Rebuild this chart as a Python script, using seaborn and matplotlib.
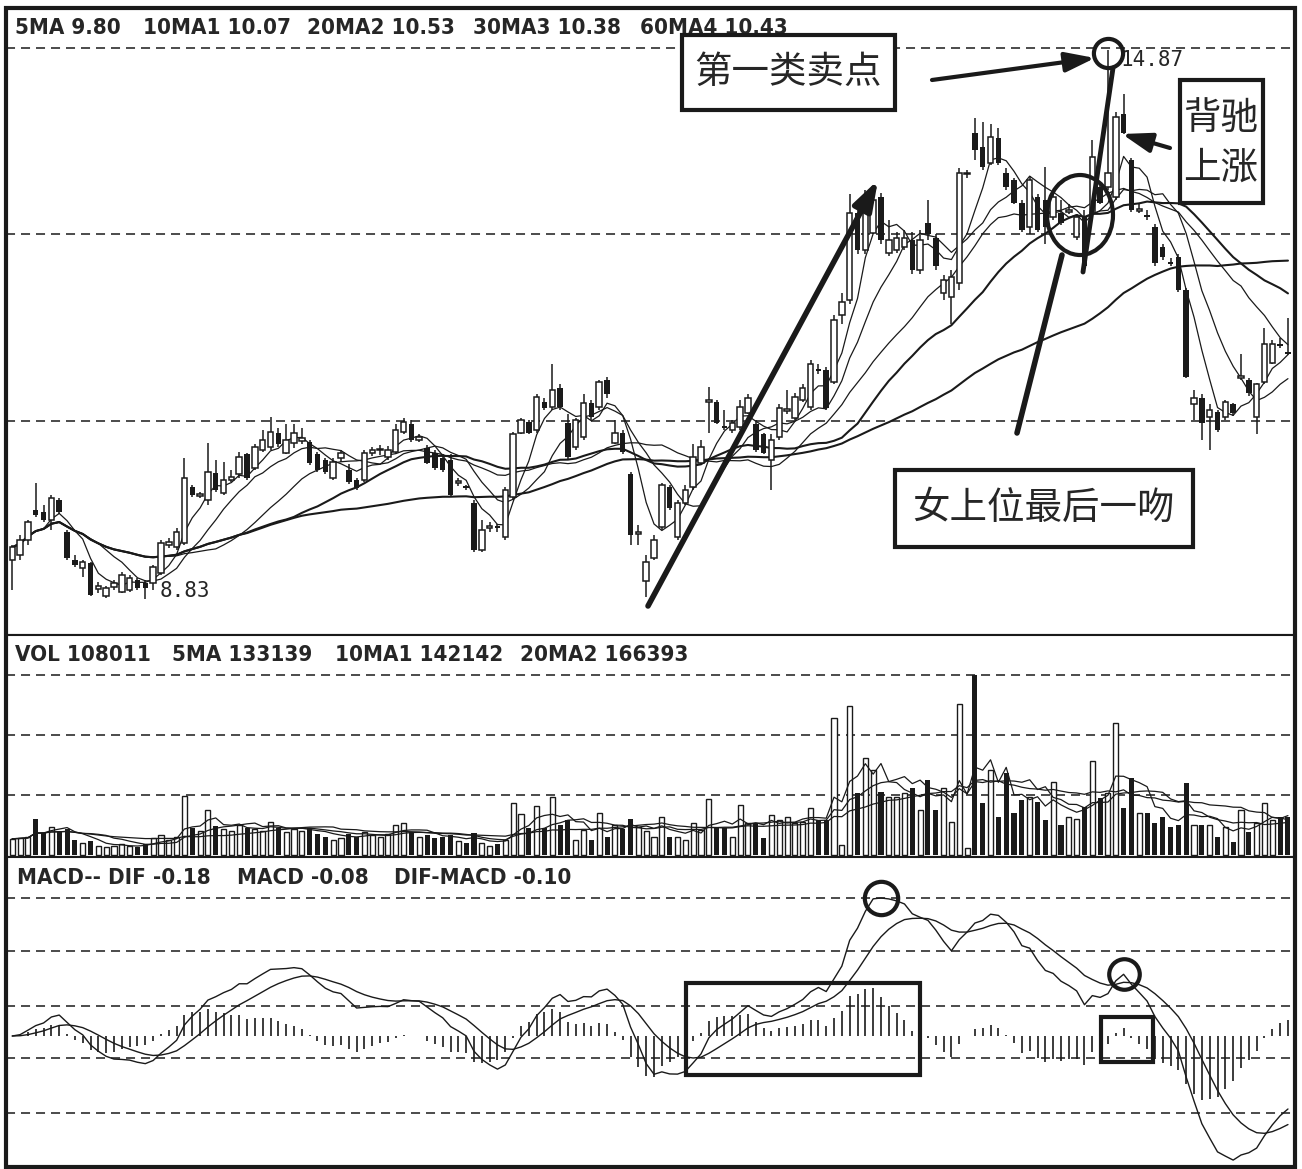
import numpy as np
import pandas as pd
import seaborn as sns
import matplotlib.pyplot as plt
from matplotlib.patches import Rectangle, Ellipse, FancyArrowPatch

# daily bars (price in yuan, volume in hands)
opens = [9.26, 9.31, 9.48, 9.81, 9.79, 9.70, 9.92, 9.57, 9.26, 9.17,
         9.23, 8.94, 8.86, 8.96, 8.91, 8.93, 9.04, 9.01, 9.01, 9.12,
         9.43, 9.40, 9.45, 10.06, 9.96, 9.92, 10.22, 10.00, 10.14, 10.20,
         10.42, 10.27, 10.47, 10.50, 10.66, 10.44, 10.55, 10.57, 10.56, 10.42,
         10.36, 10.16, 10.38, 10.25, 10.14, 10.14, 10.44, 10.47, 10.39, 10.45,
         10.67, 10.75, 10.58, 10.49, 10.44, 10.38, 10.36, 10.11, 10.07, 9.89,
         9.37, 9.61, 9.63, 9.51, 9.95, 10.66, 10.78, 10.69, 11.00, 10.94,
         11.15, 10.77, 10.50, 10.61, 10.99, 10.94, 11.24, 10.55, 10.66, 10.20,
         9.55, 9.03, 9.28, 9.62, 10.06, 9.51, 9.89, 10.06, 10.33, 11.00,
         11.00, 10.73, 10.69, 10.72, 10.88, 10.75, 10.64, 10.36, 10.61, 10.90,
         10.82, 11.02, 10.94, 11.36, 11.35, 11.22, 11.95, 12.12, 13.08, 12.67,
         12.86, 13.25, 12.64, 12.67, 12.70, 12.78, 12.45, 12.97, 12.80, 12.20,
         12.15, 12.31, 13.50, 13.96, 13.80, 13.63, 13.90, 13.52, 13.44, 13.19,
         12.92, 13.25, 13.22, 13.03, 13.08, 13.09, 12.81, 13.03, 13.08, 13.36,
         13.36, 13.25, 14.16, 13.66, 13.10, 13.05, 12.92, 12.70, 12.54, 12.59,
         12.23, 10.97, 11.04, 10.83, 10.89, 10.83, 10.97, 11.26, 11.24, 10.83,
         11.22, 11.43, 11.63, 11.55]
highs = [9.43, 9.54, 9.70, 10.11, 9.86, 9.98, 9.94, 9.59, 9.31, 9.26,
         9.24, 9.02, 8.97, 9.04, 9.13, 9.10, 9.06, 9.04, 9.20, 9.48,
         9.50, 9.61, 10.38, 10.09, 10.01, 10.55, 10.36, 10.34, 10.25, 10.45,
         10.44, 10.53, 10.69, 10.83, 10.71, 10.75, 10.75, 10.71, 10.58, 10.45,
         10.38, 10.38, 10.47, 10.31, 10.16, 10.47, 10.50, 10.52, 10.51, 10.75,
         10.82, 10.80, 10.64, 10.52, 10.47, 10.42, 10.42, 10.16, 10.09, 9.92,
         9.70, 9.68, 9.66, 10.06, 10.67, 10.82, 10.80, 11.08, 11.04, 11.41,
         11.19, 10.86, 10.82, 11.08, 11.02, 11.24, 11.27, 10.80, 10.69, 10.23,
         9.65, 9.32, 9.54, 10.11, 10.09, 9.92, 10.09, 10.53, 10.58, 11.16,
         11.02, 10.91, 10.80, 11.02, 11.08, 10.80, 10.66, 10.64, 10.97, 11.13,
         11.10, 11.19, 11.46, 11.41, 11.38, 11.95, 12.20, 13.28, 13.17, 13.33,
         13.30, 13.30, 13.00, 12.87, 12.89, 12.87, 12.89, 13.22, 12.84, 12.39,
         12.45, 13.57, 13.55, 14.12, 14.08, 14.05, 14.01, 13.57, 13.46, 13.22,
         13.48, 13.28, 13.58, 13.28, 13.22, 13.17, 13.06, 13.11, 13.88, 13.39,
         14.87, 14.19, 14.38, 13.68, 13.17, 13.11, 12.95, 12.73, 12.58, 12.63,
         12.25, 11.13, 11.08, 10.97, 10.91, 11.02, 10.99, 11.52, 11.26, 11.21,
         11.81, 11.68, 11.70, 11.92]
lows = [8.93, 9.26, 9.43, 9.73, 9.68, 9.59, 9.77, 9.26, 9.18, 9.07,
        8.86, 8.90, 8.84, 8.93, 8.90, 8.91, 8.93, 8.83, 8.93, 9.10,
        9.39, 9.37, 9.43, 9.95, 9.94, 9.86, 10.01, 9.98, 10.12, 10.16,
        10.14, 10.25, 10.45, 10.47, 10.50, 10.42, 10.49, 10.53, 10.30, 10.23,
        10.21, 10.14, 10.34, 10.10, 10.03, 10.12, 10.40, 10.41, 10.36, 10.42,
        10.64, 10.56, 10.56, 10.31, 10.25, 10.23, 9.95, 10.07, 10.03, 9.35,
        9.35, 9.57, 9.57, 9.48, 9.92, 10.64, 10.64, 10.66, 10.91, 10.91,
        10.91, 10.36, 10.47, 10.58, 10.80, 10.91, 11.04, 10.53, 10.42, 9.43,
        9.43, 8.85, 9.26, 9.59, 9.81, 9.48, 9.87, 10.03, 10.31, 10.66,
        10.75, 10.69, 10.66, 10.69, 10.86, 10.45, 10.42, 10.03, 10.58, 10.86,
        10.80, 11.00, 10.91, 11.30, 10.91, 11.19, 11.85, 12.07, 12.62, 12.62,
        12.84, 12.73, 12.60, 12.64, 12.67, 12.41, 12.41, 12.78, 12.45, 12.12,
        11.85, 12.23, 13.46, 13.66, 13.55, 13.60, 13.60, 13.33, 13.17, 12.87,
        12.84, 12.87, 12.73, 13.00, 12.94, 13.06, 12.78, 12.45, 13.06, 13.17,
        13.33, 13.22, 13.94, 13.09, 13.08, 13.00, 12.49, 12.56, 12.49, 12.21,
        11.26, 10.80, 10.58, 10.47, 10.67, 10.80, 10.84, 11.24, 11.06, 10.64,
        11.19, 11.41, 11.59, 11.51]
closes = [9.40, 9.48, 9.68, 9.75, 9.70, 9.94, 9.79, 9.28, 9.20, 9.24,
          8.88, 8.97, 8.95, 9.01, 9.10, 9.06, 8.95, 8.95, 9.18, 9.45,
          9.46, 9.57, 10.16, 9.98, 9.99, 10.23, 10.03, 10.14, 10.17, 10.39,
          10.16, 10.50, 10.58, 10.67, 10.53, 10.58, 10.66, 10.60, 10.33, 10.25,
          10.23, 10.34, 10.44, 10.12, 10.05, 10.44, 10.47, 10.48, 10.47, 10.69,
          10.78, 10.58, 10.61, 10.33, 10.27, 10.25, 9.98, 10.13, 10.05, 9.37,
          9.59, 9.63, 9.61, 10.03, 10.64, 10.80, 10.66, 11.05, 10.93, 11.13,
          10.94, 10.39, 10.80, 10.99, 10.83, 11.22, 11.08, 10.66, 10.45, 9.54,
          9.57, 9.24, 9.48, 10.09, 9.83, 9.89, 10.03, 10.39, 10.50, 11.02,
          10.77, 10.71, 10.77, 10.94, 11.04, 10.47, 10.44, 10.58, 10.93, 10.92,
          11.05, 11.15, 11.41, 11.34, 10.93, 11.90, 12.10, 13.08, 12.67, 13.17,
          13.22, 12.78, 12.78, 12.80, 12.80, 12.45, 12.78, 12.84, 12.49, 12.34,
          12.37, 13.52, 13.52, 13.77, 13.58, 13.91, 13.63, 13.36, 13.19, 12.89,
          13.44, 12.89, 12.92, 13.25, 12.97, 13.11, 13.03, 12.49, 13.69, 13.19,
          13.52, 14.13, 13.96, 13.11, 13.12, 13.03, 12.53, 12.59, 12.52, 12.23,
          11.27, 11.04, 10.77, 10.91, 10.69, 11.00, 10.88, 11.28, 11.10, 11.19,
          11.63, 11.63, 11.61, 11.53]
volumes_k = [53, 55, 60, 120, 73, 93, 80, 85, 50, 40,
             45, 30, 25, 28, 35, 30, 25, 35, 55, 65,
             50, 60, 197, 90, 80, 150, 95, 85, 80, 100,
             90, 85, 80, 110, 90, 75, 85, 80, 90, 70,
             60, 50, 55, 70, 60, 75, 65, 60, 70, 100,
             107, 75, 60, 65, 55, 60, 65, 45, 40, 73,
             40, 30, 35, 50, 173, 137, 90, 163, 90, 193,
             100, 117, 50, 83, 50, 140, 60, 100, 85, 120,
             93, 80, 60, 127, 60, 60, 50, 107, 83, 187,
             90, 90, 60, 167, 107, 107, 57, 133, 117, 127,
             107, 110, 157, 117, 117, 457, 33, 497, 207, 323,
             283, 210, 193, 193, 207, 223, 150, 250, 150, 223,
             110, 503, 23, 600, 173, 283, 127, 273, 140, 183,
             193, 177, 117, 243, 100, 127, 120, 160, 313, 190,
             207, 440, 157, 257, 140, 140, 107, 127, 93, 100,
             240, 100, 100, 100, 60, 93, 43, 150, 77, 107,
             173, 117, 127, 127]

price_ma_windows = [5, 10, 20, 30, 60]
vol_ma_windows = [5, 10, 20]
price_grid = [10.79, 12.84, 14.89]
vol_grid = [200000, 400000, 600000]

ma_header = ["5MA 9.80", "10MA1 10.07", "20MA2 10.53", "30MA3 10.38", "60MA4 10.43"]
vol_header = ["VOL 108011", "5MA 133139", "10MA1 142142", "20MA2 166393"]
macd_header = ["MACD-- DIF -0.18", "MACD -0.08", "DIF-MACD -0.10"]

sns.set_theme(style="white")
plt.rcParams["font.family"] = ["DejaVu Sans"]
plt.rcParams["lines.scale_dashes"] = False
CJK = ["Noto Sans CJK SC", "DejaVu Sans"]
DASH = (6.5, 4.3)

W, H = 1302, 1169
fig = plt.figure(figsize=(W / 100, H / 100), dpi=100)


def fx(px):
    return px / W


def fy(py):
    return 1 - py / H


def panel(top, bottom):
    return fig.add_axes([fx(6), fy(bottom), fx(1295) - fx(6), fy(top) - fy(bottom)])


ax_p = panel(8, 635)
ax_v = panel(635, 857)
ax_m = panel(857, 1167)

df = pd.DataFrame({"open": opens, "high": highs, "low": lows, "close": closes,
                   "vol": np.array(volumes_k) * 1000})
df["i"] = np.arange(len(df))
up = df["close"] >= df["open"]
n = len(df)

# ---- price panel: candles + moving averages
body_b = np.minimum(df["open"], df["close"])
body_h = np.maximum((df["close"] - df["open"]).abs(), 0.015)
ax_p.vlines(df["i"], df["low"], df["high"], color="k", lw=1.1, zorder=2)
ax_p.bar(df["i"][up], body_h[up], bottom=body_b[up], width=0.7,
         facecolor="white", edgecolor="k", lw=1.1, zorder=3)
ax_p.bar(df["i"][~up], body_h[~up], bottom=body_b[~up], width=0.7,
         color="k", lw=0, zorder=3)
for w in price_ma_windows:
    ma = df["close"].rolling(w, min_periods=1).mean()
    sns.lineplot(x=df["i"], y=ma, ax=ax_p, color="k", lw=1.5 if w >= 30 else 0.9, zorder=2.5)
for g in price_grid:
    ax_p.axhline(g, color="k", lw=1.1, dashes=DASH, zorder=0.5)
ax_p.set_ylim(8.435, 15.33)

i_lo = int(df["low"].idxmin())
i_hi = int(df["high"].idxmax())
ax_p.annotate(f"{df['low'].min():.2f}", xy=(i_lo, df["low"].min()), xytext=(10, 6),
              textcoords="offset points", family="DejaVu Sans Mono", fontsize=15, va="center")
ax_p.annotate(f"{df['high'].max():.2f}", xy=(i_hi, df["high"].max()), xytext=(9, -7),
              textcoords="offset points", family="DejaVu Sans Mono", fontsize=15, va="center")
ax_p.plot(i_hi, df["high"].max() - 0.03, "o", ms=21, mfc="none", mec="k", mew=3, zorder=6)

# ---- volume panel
ax_v.bar(df["i"][up], df["vol"][up], width=0.65, facecolor="white", edgecolor="k", lw=1, zorder=3)
ax_v.bar(df["i"][~up], df["vol"][~up], width=0.65, color="k", lw=0, zorder=3)
for w in vol_ma_windows:
    sns.lineplot(x=df["i"], y=df["vol"].rolling(w, min_periods=1).mean(), ax=ax_v,
                 color="k", lw=0.9, zorder=4)
for g in vol_grid:
    ax_v.axhline(g, color="k", lw=1.1, dashes=DASH, zorder=0.5)
ax_v.set_ylim(-8000, 733000)

# ---- MACD panel (DIF, DEA and DIF-DEA bars)
ema12 = df["close"].ewm(span=12, adjust=False).mean()
ema26 = df["close"].ewm(span=26, adjust=False).mean()
dif = ema12 - ema26
dea = dif.ewm(span=9, adjust=False).mean()
hist = dif - dea
ax_m.vlines(df["i"], 0, hist, color="k", lw=1.2, zorder=2)
sns.lineplot(x=df["i"], y=dif, ax=ax_m, color="k", lw=1, zorder=3)
sns.lineplot(x=df["i"], y=dea, ax=ax_m, color="k", lw=1, zorder=3)
k = 138 / dif.max()
ax_m.set_ylim(-131 / k, 179 / k)
for f in [0.868, 0.697, 0.519, 0.352, 0.174]:
    ax_m.plot([0, 1], [f, f], transform=ax_m.transAxes, color="k", lw=1.1, dashes=DASH, zorder=0.5)
i_top = int(dif.idxmax())
i_2 = int(dif.iloc[136:147].idxmax())
ax_m.plot(i_top, dif[i_top], "o", ms=24, mfc="none", mec="k", mew=3, zorder=6)
ax_m.plot(i_2, dif[i_2], "o", ms=22, mfc="none", mec="k", mew=3, zorder=6)

for ax in (ax_p, ax_v, ax_m):
    ax.set_xlim(-0.8, n - 1 + 0.9)
    ax.set_xticks([])
    ax.set_yticks([])
    ax.set_xlabel("")
    ax.set_ylabel("")
    for s in ax.spines.values():
        s.set_color("k")
        s.set_linewidth(1.5)

fig.add_artist(Rectangle((fx(6), fy(1167)), fx(1295) - fx(6), fy(8) - fy(1167),
                         transform=fig.transFigure, fill=False, ec="k", lw=3, zorder=20))

# ---- header texts
for s, x in zip(ma_header, [15, 143, 307, 473, 640]):
    fig.text(fx(x), fy(28), s, fontsize=16, fontweight="bold", fontstretch="condensed", va="center")
for s, x in zip(vol_header, [15, 172, 335, 520]):
    fig.text(fx(x), fy(655), s, fontsize=16, fontweight="bold", fontstretch="condensed", va="center")
for s, x in zip(macd_header, [17, 237, 394]):
    fig.text(fx(x), fy(878), s, fontsize=16, fontweight="bold", fontstretch="condensed", va="center")


# ---- annotations
def box(x0, y0, x1, y1, lw=3, fill=True):
    fig.add_artist(Rectangle((fx(x0), fy(y1)), fx(x1) - fx(x0), fy(y0) - fy(y1),
                             transform=fig.transFigure, facecolor="white" if fill else "none",
                             edgecolor="k", lw=lw, zorder=10))


def arrow(p0, p1, lw=3, head=True):
    fig.add_artist(FancyArrowPatch((fx(p0[0]), fy(p0[1])), (fx(p1[0]), fy(p1[1])),
                                   transform=fig.transFigure,
                                   arrowstyle="-|>,head_length=0.9,head_width=0.3" if head else "-",
                                   mutation_scale=20, lw=lw, color="k", shrinkA=0, shrinkB=0, zorder=12))


box(682, 35, 895, 110)
fig.text(fx(788), fy(72), "第一类卖点", family=CJK, fontsize=27, ha="center", va="center", zorder=11)
box(1180, 80, 1263, 203)
fig.text(fx(1221), fy(118), "背驰", family=CJK, fontsize=27, ha="center", va="center", zorder=11)
fig.text(fx(1221), fy(168), "上涨", family=CJK, fontsize=27, ha="center", va="center", zorder=11)
box(895, 470, 1193, 547)
fig.text(fx(1044), fy(508), "女上位最后一吻", family=CJK, fontsize=27, ha="center", va="center", zorder=11)

arrow((648, 606), (878, 180), lw=4)
arrow((932, 80), (1095, 58), lw=3)
arrow((1113, 68), (1083, 272), lw=3.5, head=False)
arrow((1017, 433), (1062, 255), lw=4, head=False)
arrow((1170, 148), (1122, 134), lw=3)
fig.add_artist(Ellipse((fx(1080), fy(215)), 66 / W, 80 / H, transform=fig.transFigure,
                       fill=False, ec="k", lw=3, zorder=12))

box(686, 983, 920, 1075, fill=False)
box(1101, 1017, 1153, 1062, fill=False)

fig.savefig("out.png", dpi=100, facecolor="white")
